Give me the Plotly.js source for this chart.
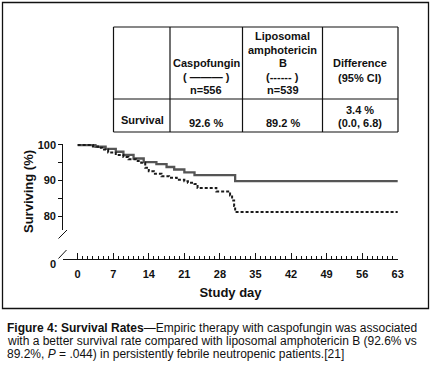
<!DOCTYPE html>
<html><head><meta charset="utf-8">
<script src="https://cdn.plot.ly/plotly-3.0.1.min.js"></script>
<style>html,body{margin:0;padding:0;background:#fff;} #chart{width:432px;height:373px;}</style>
</head><body><div id="chart"></div>
<script>
// ---- data ----
const caspoDays = [0, 3.5, 5.5, 7.5, 9, 11, 13, 15.5, 17.5, 19, 21, 23, 31, 63];
const caspoSurv = [100, 99.5, 98.9, 98.1, 97.2, 96.2, 95.2, 94.6, 93.8, 93.1, 92.3, 91.5, 89.8, 89.8];
const liposDays = [0, 3, 4, 4.8, 6, 7.5, 9, 10, 11.5, 12.5, 13.3, 14, 15, 16.5, 18, 19.5, 21, 21.7, 23, 23.6, 27.3, 30, 30.4, 30.8, 31, 63];
const liposSurv = [100, 99.6, 99.2, 98.7, 97.9, 97.2, 96.6, 96.0, 95.5, 95.0, 93.6, 92.6, 91.9, 91.2, 90.8, 90.2, 89.8, 89.4, 89.0, 87.9, 86.9, 85.8, 84.4, 82.8, 81.1, 81.1];
const xTickVals = [0, 7, 14, 21, 28, 35, 42, 49, 56, 63];
const xTickText = ['0', '7', '14', '21', '28', '35', '42', '49', '56', '63'];
const yTickVals = [80, 85, 90, 95, 100];
const yTickText = ['80', '', '90', '', '100'];
const yTitle = 'Surviving (%)';
const headerCaspo = ['Caspofungin', '( ——— )', 'n=556'];
const headerLipos = ['Liposomal', 'amphotericin', 'B', '(------ )', 'n=539'];
const headerDiff = ['Difference', '(95% CI)'];
const rowLabel = 'Survival';
const rowCaspo = '92.6 %';
const rowLipos = '89.2 %';
const rowDiff = ['3.4 %', '(0.0, 6.8)'];
const captionLines = [
  '<b>Figure 4: Survival Rates</b>—Empiric therapy with caspofungin was associated',
  'with a better survival rate compared with liposomal amphotericin B (92.6% vs',
  '89.2%, <i>P</i> = .044) in persistently febrile neutropenic patients.[21]'
];

// ---- geometry helpers (pixel -> paper) ----
const L = 63, R = 398, T = 144, B = 259;
const px = x => (x - L) / (R - L);
const py = y => (B - y) / (B - T);
const FONT = 'Liberation Sans, Arial, Helvetica, sans-serif';
const INK = '#111';

const minorVals = [];
for (let d = 1; d < 63; d++) if (d % 7 !== 0) minorVals.push(d);

const shapes = [];
const line = (x0, y0, x1, y1, w) => shapes.push({type: 'line', xref: 'paper', yref: 'paper',
  x0: px(x0), y0: py(y0), x1: px(x1), y1: py(y1), line: {color: INK, width: w || 1.2}});
// outer frame
shapes.push({type: 'rect', xref: 'paper', yref: 'paper', x0: px(2.5), y0: py(308.5), x1: px(428.5), y1: py(2.5),
  line: {color: INK, width: 1.3}});
// table grid
[27, 99, 132].forEach(y => line(113.5, y, 398, y));
[113.5, 170, 242.5, 322.5, 398].forEach(x => line(x, 27, x, 132));
// axis break marks
line(58.5, 238.5, 67, 230, 1);
line(58.5, 258.5, 66.5, 250, 1);

const annotations = [];
const txt = (s, x, y, opts) => annotations.push(Object.assign({text: s, xref: 'paper', yref: 'paper',
  x: px(x), y: py(y), xanchor: 'center', yanchor: 'middle', showarrow: false, borderpad: 0,
  font: {family: FONT, size: 11, color: INK}}, opts || {}));
headerCaspo.forEach((s, i) => txt('<b>' + s + '</b>', 206, 63 + i * 13.5));
headerLipos.forEach((s, i) => txt('<b>' + s + '</b>', 282.5, 36 + i * 13.5));
headerDiff.forEach((s, i) => txt('<b>' + s + '</b>', 360, 63 + i * 14.5));
txt('<b>' + rowLabel + '</b>', 142, 120);
txt('<b>' + rowCaspo + '</b>', 206, 123);
txt('<b>' + rowLipos + '</b>', 282.5, 123);
txt('<b>' + rowDiff[0] + '</b>', 360, 110);
txt('<b>' + rowDiff[1] + '</b>', 360, 123);
txt('<b>0</b>', 52.5, 264);
txt('<b>' + yTitle + '</b>', 28, 192, {textangle: -90, font: {family: FONT, size: 13, color: INK}});
captionLines.forEach((s, i) => txt(s, 6, 328 + i * 13,
  {xanchor: 'left', font: {family: FONT, size: 12, color: INK}}));

const traces = [
  {x: caspoDays, y: caspoSurv, mode: 'lines', name: 'Caspofungin',
   line: {shape: 'hv', color: '#555', width: 2.3}},
  {x: liposDays, y: liposSurv, mode: 'lines', name: 'Liposomal amphotericin B',
   line: {shape: 'hv', color: '#1a1a1a', width: 2, dash: '3px,2px'}}
];

const layout = {
  width: 432, height: 373,
  margin: {l: L, r: 432 - R, t: T, b: 373 - B, pad: 0},
  paper_bgcolor: '#fff', plot_bgcolor: '#fff',
  showlegend: false,
  font: {family: FONT, color: INK},
  xaxis: {range: [-2.89, 63.06], anchor: 'free', position: 0,
    showline: true, linecolor: INK, linewidth: 1.3,
    ticks: 'inside', ticklen: 6, tickwidth: 1, tickcolor: INK,
    tickmode: 'array', tickvals: xTickVals, ticktext: xTickText,
    ticklabelstandoff: 4,
    minor: {tickmode: 'array', tickvals: minorVals, ticks: 'inside', ticklen: 3, tickwidth: 1, tickcolor: INK, showgrid: false},
    showgrid: false, zeroline: false,
    tickfont: {family: FONT, size: 11, color: INK, weight: 'bold'},
    title: {text: 'Study day', font: {family: FONT, size: 13, color: INK, weight: 'bold'}, standoff: 9}},
  yaxis: {domain: [0.2522, 1], range: [76.06, 100.28],
    showline: true, linecolor: INK, linewidth: 1.3,
    ticks: 'outside', ticklen: 3.5, tickwidth: 1, tickcolor: INK,
    tickmode: 'array', tickvals: yTickVals, ticktext: yTickText,
    showgrid: false, zeroline: false,
    tickfont: {family: FONT, size: 11, color: INK, weight: 'bold'}},
  shapes: shapes,
  annotations: annotations
};

Plotly.newPlot('chart', traces, layout, {displayModeBar: false, staticPlot: true});
</script>
</body></html>
